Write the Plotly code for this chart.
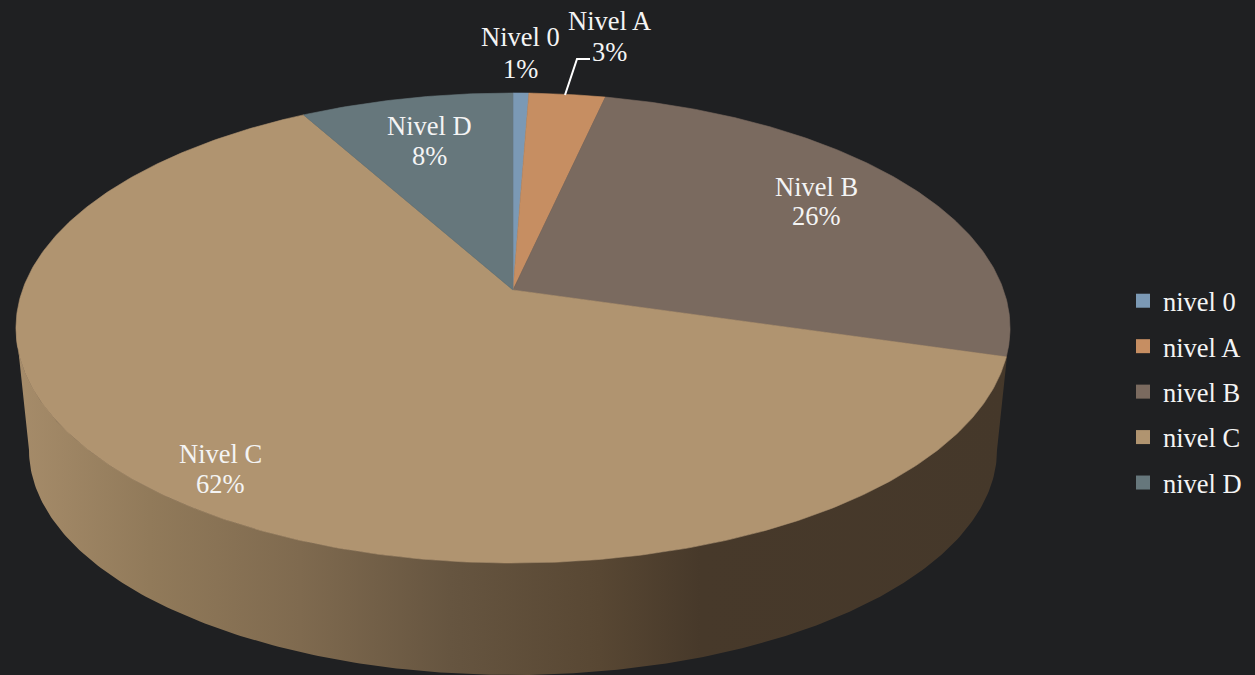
import math
import numpy as np
import plotly.graph_objects as go

# Data
categories = ["nivel 0", "nivel A", "nivel B", "nivel C", "nivel D"]
label_names = ["Nivel 0", "Nivel A", "Nivel B", "Nivel C", "Nivel D"]
shares = [0.6, 2.9, 26.0, 62.4, 8.1]
colors = ["#7b99b5", "#c68e62", "#7a6a5f", "#b09470", "#66777c"]

BG = "#1f2022"
FONT = "Liberation Serif"
FS = 26.5

# Perspective projection of the disc
CX, APEX_Y, K, A, C = 513.0, 290.0, 490.5, 181.96, -0.1617


def project(theta):
    u, v = np.sin(theta), -np.cos(theta)
    w = 1 + C * v
    return CX + K * u / w, (A * v + APEX_Y) / w


fig = go.Figure()

# Side wall
t = np.linspace(math.pi, 0, 240)
top_x, top_y = 513 + 497 * np.cos(t), 328 + 235 * np.sin(t)
low_x, low_y = 513 + 484 * np.cos(t[::-1]), 450 + 225 * np.sin(t[::-1])
wall_x = np.concatenate([top_x, low_x, top_x[:1]])
wall_y = np.concatenate([top_y, low_y, top_y[:1]])


def stop(px):
    return (px - 16) / 994


fig.add_trace(go.Scatter(
    x=wall_x, y=wall_y, mode="lines", fill="toself", line=dict(width=0),
    fillgradient=dict(type="horizontal", colorscale=[
        [0, "#a68c6a"], [stop(150), "#917a5a"], [stop(300), "#7f6a4f"],
        [stop(450), "#665540"], [stop(600), "#584733"], [stop(700), "#47392a"],
        [1, "#45382a"]]),
    showlegend=False, hoverinfo="skip"))

# Slices on top
total = sum(shares)
start = 0.0
for name, share, col in zip(categories, shares, colors):
    end = start + share / total * 2 * math.pi
    th = np.linspace(start, end, max(3, int(share * 6)))
    px, py = project(th)
    fig.add_trace(go.Scatter(
        x=np.concatenate([[CX], px, [CX]]), y=np.concatenate([[APEX_Y], py, [APEX_Y]]),
        mode="lines", fill="toself", fillcolor=col, line=dict(width=0.6, color=col),
        showlegend=False, hoverinfo="skip"))
    start = end

# Legend entries
for i, (name, col) in enumerate(zip(categories, colors)):
    fig.add_trace(go.Scatter(
        x=[None], y=[None], mode="markers", name=name, legendgroup=name,
        marker=dict(symbol="square", size=14, color=col)))

# Data labels
label_pos = [(520, 37, 69), (609, 21, 52), (816, 187, 216), (220, 454, 484), (429, 126, 156)]
annotations = []
for name, share, (lx, y1, y2) in zip(label_names, shares, label_pos):
    for txt, ly in ((name, y1), (f"{round(share / total * 100)}%", y2)):
        annotations.append(dict(
            x=lx, y=ly, xref="x", yref="y", text=txt, showarrow=False,
            xanchor="center", yanchor="middle",
            font=dict(family=FONT, size=FS, color="#f4f4f4")))

leader = dict(type="path", path="M 565 95 L 577 59 L 590 59", xref="x", yref="y",
              line=dict(color="#ffffff", width=2))

fig.update_layout(
    width=1255, height=675, margin=dict(l=0, r=0, t=0, b=0),
    paper_bgcolor=BG, plot_bgcolor=BG,
    xaxis=dict(range=[0, 1255], visible=False, fixedrange=True),
    yaxis=dict(range=[675, 0], visible=False, fixedrange=True),
    annotations=annotations, shapes=[leader],
    legend=dict(x=1123 / 1255, xanchor="left", y=1 - 277 / 675, yanchor="top",
                bgcolor="rgba(0,0,0,0)", tracegroupgap=8,
                font=dict(family=FONT, size=FS, color="#f4f4f4")),
    showlegend=True,
)

fig.write_html("out.html", config={"displayModeBar": False},
               post_script="document.body.style.margin='0';document.documentElement.style.overflow='hidden';")
